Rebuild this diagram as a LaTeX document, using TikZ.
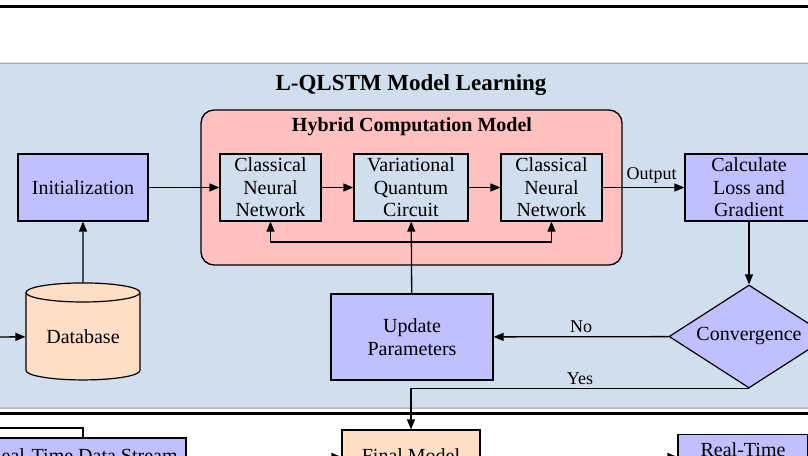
\documentclass[tikz,border=0pt]{standalone}
\usepackage{fontspec}
\setmainfont{Liberation Serif}
\usetikzlibrary{arrows.meta,shapes.geometric}

\definecolor{clusterblue}{RGB}{208,222,238}
\definecolor{hybridpink}{RGB}{255,192,192}
\definecolor{steplilac}{RGB}{192,192,255}
\definecolor{datapeach}{RGB}{255,222,198}
\definecolor{framegray}{RGB}{150,150,150}

\begin{document}
\begin{tikzpicture}[x=1pt,y=-1pt,->,>={Triangle[length=10pt,width=8pt]},line width=1.3pt,
  every node/.style={font=\fontsize{20}{22.5}\selectfont},
  step node/.style={draw,line width=1.2pt,fill=steplilac,align=center,inner sep=0pt},
  inner node/.style={draw,line width=1.2pt,fill=clusterblue,align=center,inner sep=0pt,
    minimum height=67},
  data node/.style={draw,line width=1.2pt,fill=datapeach,align=center,inner sep=0pt},
  decision node/.style={draw,line width=1.2pt,fill=steplilac,diamond,aspect=1.55,inner sep=0pt,
    minimum width=160,minimum height=103},
  edge label/.style={font=\fontsize{18}{20}\selectfont,above}]

  \useasboundingbox (0,0) rectangle (808,455);
  \clip (0,0) rectangle (808,455);

  % frames
  \draw[-,line width=3pt] (-5,6) -- (815,6);
  \draw[-,line width=1pt,framegray,fill=clusterblue,rounded corners=5] (-5,63) rectangle (815,408);
  \draw[-,line width=3pt] (-5,413) -- (815,413);
  \node[font=\bfseries\fontsize{23}{26}\selectfont] (learn) at (411,85) {L-QLSTM Model Learning};
  \draw[-,line width=1.3pt,fill=hybridpink,rounded corners=13] (201,110) rectangle (622,265);
  \node[font=\bfseries\fontsize{20}{22}\selectfont] (hybrid) at (412,127) {Hybrid Computation Model};

  % nodes
  \node[step node,minimum width=130,minimum height=67] (init) at (83,187.5) {Initialization};
  \node[inner node,minimum width=101] (cnn1) at (270.5,187.5) {Classical\\Neural\\Network};
  \node[inner node,minimum width=114] (vqc) at (411,187.5) {Variational\\Quantum\\Circuit};
  \node[inner node,minimum width=101] (cnn2) at (551.5,187.5) {Classical\\Neural\\Network};
  \node[step node,minimum width=128,minimum height=67] (loss) at (749,187.5) {Calculate\\Loss and\\Gradient};
  \node[decision node] (conv) at (749,336.5) {Convergence};
  \node[step node,minimum width=162,minimum height=86] (upd) at (412,337) {Update\\Parameters};
  \node[data node,cylinder,shape border rotate=90,aspect=0.26,minimum width=114,minimum height=97]
    (db) at (83,336.5) {Database};

  \node[data node,minimum width=138,minimum height=52] (final) at (411,456) {Final Model};
  \node[step node,minimum width=206,minimum height=36] (stream) at (83,456) {Real-Time Data Stream};
  \node[step node,anchor=north,minimum width=130,minimum height=60] (rt) at (743,434) {Real-Time\\\strut};

  \coordinate (dbin) at (-10,337);
  \coordinate (split) at (411,242);
  \coordinate (streamin) at (-10,428);
  \coordinate (lowrow) at (0,457);

  % connectors
  \draw (dbin) -- (db);
  \draw (db) -- (init);
  \draw (init) -- (cnn1);
  \draw (cnn1) -- (vqc);
  \draw (vqc) -- (cnn2);
  \draw (cnn2) -- node[edge label,pos=0.6] {Output} (loss);
  \draw (loss) -- (conv);
  \draw (conv) -- node[edge label] {No} (upd);
  \draw (upd) -- (vqc);
  \draw (split) -| (cnn1);
  \draw (split) -| (cnn2);
  \draw (conv.south) -| node[edge label,pos=0.25] {Yes} (final.north);
  \draw[-] (streamin) -| (stream.north);
  \draw (stream.east |- lowrow) -- (final.west |- lowrow);
  \draw (final.east |- lowrow) -- (rt.west |- lowrow);
\end{tikzpicture}
\end{document}
